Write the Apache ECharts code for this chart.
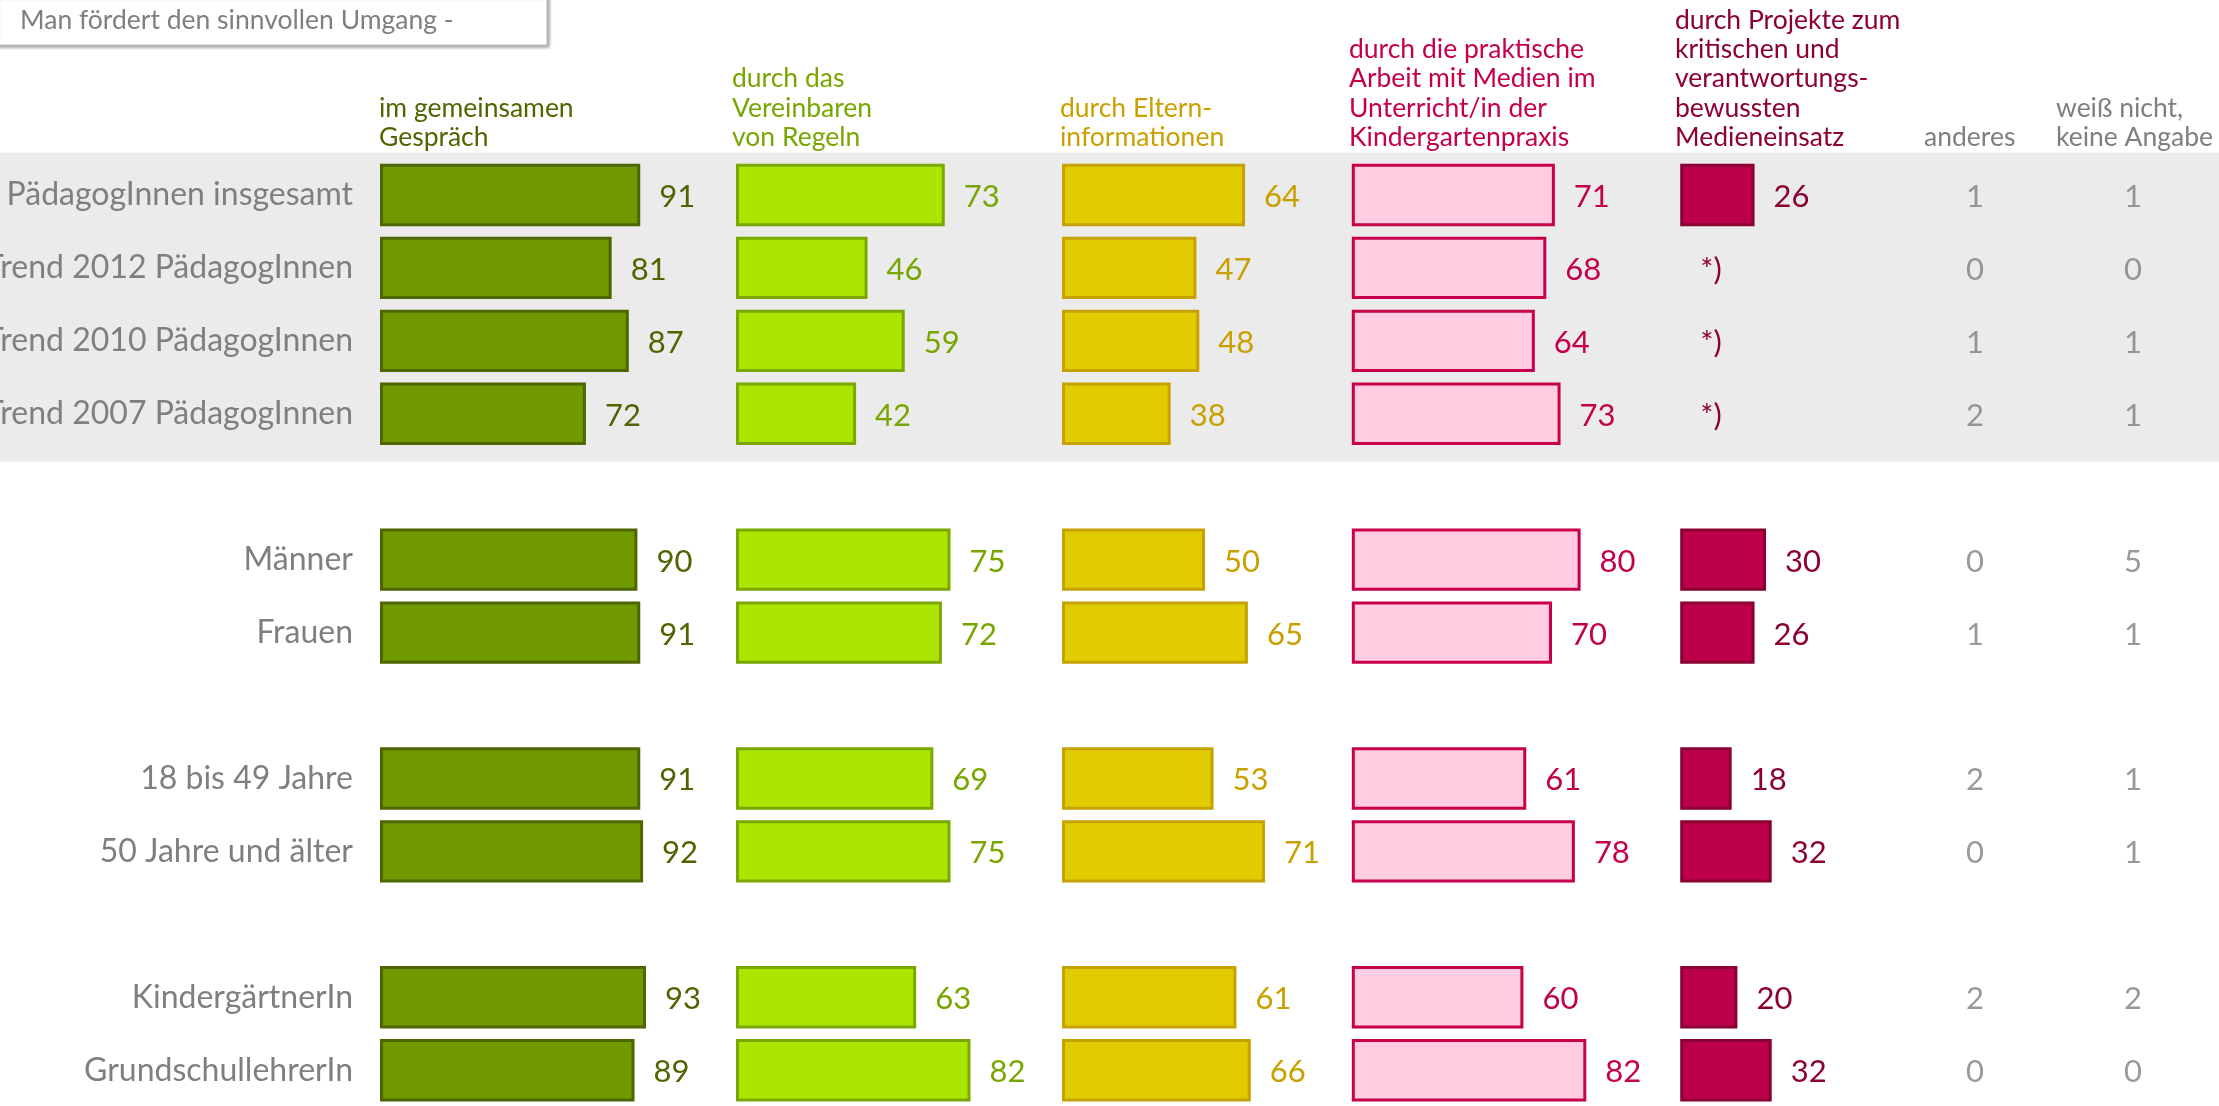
<!DOCTYPE html>
<html>
<head>
<meta charset="utf-8">
<title>Man fördert den sinnvollen Umgang</title>
<script src="https://cdn.jsdelivr.net/npm/echarts@6/dist/echarts.min.js"></script>
<style>
  html, body { margin: 0; padding: 0; background: #ffffff; }
  #chart { width: 2219px; height: 1106px; }
</style>
</head>
<body>
<div id="chart"></div>
<script>
// Zeilen (leere Einträge = Abstand zwischen den Gruppen)
var categories = [
  'PädagogInnen insgesamt', 'Trend 2012 PädagogInnen', 'Trend 2010 PädagogInnen', 'Trend 2007 PädagogInnen',
  '',
  'Männer', 'Frauen',
  ' ',
  '18 bis 49 Jahre', '50 Jahre und älter',
  '  ',
  'KindergärtnerIn', 'GrundschullehrerIn'
]

var gespraech = [91, 81, 87, 72, '-', 90, 91, '-', 91, 92, '-', 93, 89]
var regeln = [73, 46, 59, 42, '-', 75, 72, '-', 69, 75, '-', 63, 82]
var eltern = [64, 47, 48, 38, '-', 50, 65, '-', 53, 71, '-', 61, 66]
var praxis = [71, 68, 64, 73, '-', 80, 70, '-', 61, 78, '-', 60, 82]
var projekte = [26, '*)', '*)', '*)', '-', 30, 26, '-', 18, 32, '-', 20, 32] // *) = nicht abgefragt
var anderes = [1, 0, 1, 2, '-', 0, 1, '-', 2, 0, '-', 2, 0]
var weissNicht = [1, 0, 1, 1, '-', 5, 1, '-', 1, 1, '-', 2, 0]

var FONT = 'Lato, "Open Sans", sans-serif'
var GRID_TOP = 158.5
var GRID_HEIGHT = 948.2

var columns = [
  {head: 'im gemeinsamen\nGespräch', data: gespraech, left: 380, headX: 379, fill: '#709900', border: '#4d6600', text: '#4d6600'},
  {head: 'durch das\nVereinbaren\nvon Regeln', data: regeln, left: 736, headX: 732, fill: '#ace600', border: '#7aa800', text: '#78a600'},
  {head: 'durch Eltern-\ninformationen', data: eltern, left: 1062, headX: 1060, fill: '#e0cc00', border: '#c6a200', text: '#c9a000'},
  {head: 'durch die praktische\nArbeit mit Medien im\nUnterricht/in der\nKindergartenpraxis', data: praxis, left: 1351.8, headX: 1349, fill: '#ffcce0', border: '#c8004b', text: '#c4004a'},
  {head: 'durch Projekte zum\nkritischen und\nverantwortungs-\nbewussten\nMedieneinsatz', data: projekte, left: 1680.2, headX: 1675, fill: '#bd004a', border: '#8a0033', text: '#8c0036'}
]

var textColumns = [
  {head: 'anderes', data: anderes, headX: 1924},
  {head: 'weiß nicht,\nkeine Angabe', data: weissNicht, headX: 2056}
]

var grids = []
var xAxes = []
var yAxes = []
var series = []

columns.forEach(function (col, i) {
  grids.push({left: col.left, top: GRID_TOP, width: 286, height: GRID_HEIGHT, outerBoundsMode: 'none'})
  xAxes.push({type: 'value', gridIndex: i, min: 0, max: 100, show: false})
  yAxes.push({
    type: 'category',
    gridIndex: i,
    data: categories,
    inverse: true,
    show: i === 0,
    axisLine: {show: false},
    axisTick: {show: false},
    axisLabel: {margin: 27, fontSize: 32, color: '#7f7f7f', fontFamily: FONT, padding: [4, 0, 0, 0]}
  })
  series.push({
    type: 'bar',
    xAxisIndex: i,
    yAxisIndex: i,
    barWidth: 62.4,
    silent: true,
    itemStyle: {color: col.fill, borderColor: col.border, borderWidth: 3},
    label: {show: true, position: 'right', distance: 19, offset: [0, 2], color: col.text, fontSize: 31, fontFamily: FONT},
    data: col.data.map(function (v) {
      if (v === '*)') {
        return {
          value: 0,
          itemStyle: {color: 'rgba(0,0,0,0)', borderWidth: 0},
          label: {formatter: '*)', distance: 20}
        }
      }
      return v
    })
  })
})

// Spalten ohne Balken: anderes / weiß nicht
var gi = columns.length
grids.push({left: 1896, top: GRID_TOP, width: 316, height: GRID_HEIGHT, outerBoundsMode: 'none'})
xAxes.push({type: 'category', gridIndex: gi, data: textColumns.map(function (c) { return c.head }), show: false})
yAxes.push({type: 'category', gridIndex: gi, data: categories, inverse: true, show: false})
textColumns.forEach(function (col, k) {
  var pts = []
  col.data.forEach(function (v, r) {
    if (v !== '-') pts.push([k, r, v])
  })
  series.push({
    type: 'scatter',
    xAxisIndex: gi,
    yAxisIndex: gi,
    symbolSize: 1,
    silent: true,
    itemStyle: {color: 'rgba(0,0,0,0)'},
    label: {
      show: true,
      position: 'inside',
      offset: [0, 2],
      color: '#7f7f7f',
      fontSize: 31,
      fontFamily: FONT,
      formatter: function (p) { return p.value[2] }
    },
    data: pts
  })
})

var graphics = [
  // grau hinterlegter Block Gesamt/Trend
  {type: 'rect', z: 0, shape: {x: 0, y: 152.7, width: 2219, height: 309}, style: {fill: '#ebebeb'}},
  // Frage-Kasten oben links
  {
    type: 'rect',
    z: 1,
    shape: {x: -4, y: -4, width: 551, height: 49},
    style: {fill: '#ffffff', stroke: '#c4c4c4', lineWidth: 1, shadowBlur: 3, shadowOffsetX: 2, shadowOffsetY: 2, shadowColor: 'rgba(0,0,0,0.35)'}
  },
  {
    type: 'text',
    z: 2,
    style: {x: 20, y: 20, text: 'Man fördert den sinnvollen Umgang -', fill: '#7f7f7f', font: '26.5px ' + FONT, verticalAlign: 'middle'}
  }
]

columns.concat(textColumns).forEach(function (col) {
  graphics.push({
    type: 'text',
    z: 2,
    style: {
      x: col.headX,
      y: 152,
      text: col.head,
      fill: col.text || '#7f7f7f',
      font: '26.5px ' + FONT,
      lineHeight: 29.3,
      align: 'left',
      verticalAlign: 'bottom'
    }
  })
})

var option = {
  animation: false,
  backgroundColor: '#ffffff',
  grid: grids,
  xAxis: xAxes,
  yAxis: yAxes,
  graphic: graphics,
  series: series
}

var myChart = echarts.init(document.getElementById('chart'))
myChart.setOption(option)
</script>
</body>
</html>
